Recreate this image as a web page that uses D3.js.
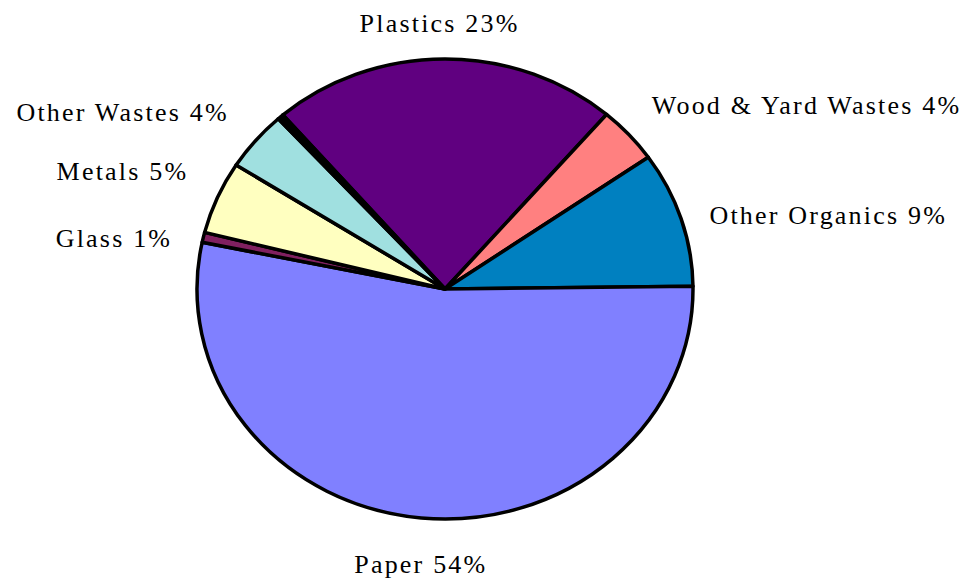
<!DOCTYPE html>
<html>
<head>
<meta charset="utf-8">
<script src="https://cdn.jsdelivr.net/npm/d3@7"></script>
<style>
    body { margin: 0; background: #fff; }
    svg { display: block; }
</style>
</head>
<body>
<svg id="chart" width="979" height="579"></svg>
<script>
// slices, clockwise from the top
const categories = ["Plastics", "Wood & Yard Wastes", "Other Organics", "Paper", "Glass", "Metals", "Other Wastes", ""];
const values = [22.6, 4.0, 9.5, 53.4, 0.7, 5.1, 4.2, 0.4];
const labels = ["Plastics 23%", "Wood & Yard Wastes 4%", "Other Organics 9%", "Paper 54%", "Glass 1%", "Metals 5%", "Other Wastes 4%", ""];
const colors = ["#600080", "#ff8080", "#0080c0", "#8080ff", "#802060", "#ffffc0", "#a0e0e0", "#000000"];

const svg = d3.select("#chart");

const cx = 445, cy = 289;
const rx = 248, ry = 230;

const startAngle = -40.8 * Math.PI / 180;

const pie = d3.pie()
    .sort(null)
    .value((d) => d.value)
    .startAngle(startAngle)
    .endAngle(startAngle + 2 * Math.PI);

const data = categories.map((c, i) => ({ name: c, value: values[i], label: labels[i], color: colors[i], idx: i }));
const arcs = pie(data);

const arc = d3.arc().innerRadius(0).outerRadius(rx);

// pie is drawn as a circle and squashed vertically into an ellipse
const g = svg.append("g")
    .attr("transform", `translate(${cx},${cy}) scale(1,${ry / rx})`);

g.selectAll("path")
    .data(arcs)
    .enter()
    .append("path")
    .attr("d", arc)
    .attr("fill", (d) => d.data.color)
    .attr("stroke", "#000")
    .attr("stroke-width", 3.5)
    .attr("stroke-linejoin", "round")
    .attr("vector-effect", "non-scaling-stroke");

// labels sit on a larger ellipse around the pie, with small nudges like Excel does
const lrx = rx + 35, lry = ry + 45;
const labelNudge = [[-5, 9], [-3, 0], [-5, 10], [3, 1], [3, 11], [3, -9], [0, 0], [0, 0]];

const midAngle = (d) => (d.startAngle + d.endAngle) / 2;

svg.append("g")
    .selectAll("text")
    .data(arcs.filter((d) => d.data.label))
    .enter()
    .append("text")
    .attr("x", (d) => cx + lrx * Math.sin(midAngle(d)) + labelNudge[d.data.idx][0])
    .attr("y", (d) => cy - lry * Math.cos(midAngle(d)) + labelNudge[d.data.idx][1])
    .attr("dy", "0.35em")
    .attr("text-anchor", (d) => {
        const s = Math.sin(midAngle(d));
        if (Math.abs(s) < 0.2) return "middle";
        return s > 0 ? "start" : "end";
    })
    .attr("font-family", "'Liberation Serif', 'Times New Roman', serif")
    .attr("font-size", 26)
    .attr("letter-spacing", 2.2)
    .attr("fill", "#000")
    .text((d) => d.data.label);
</script>
</body>
</html>
